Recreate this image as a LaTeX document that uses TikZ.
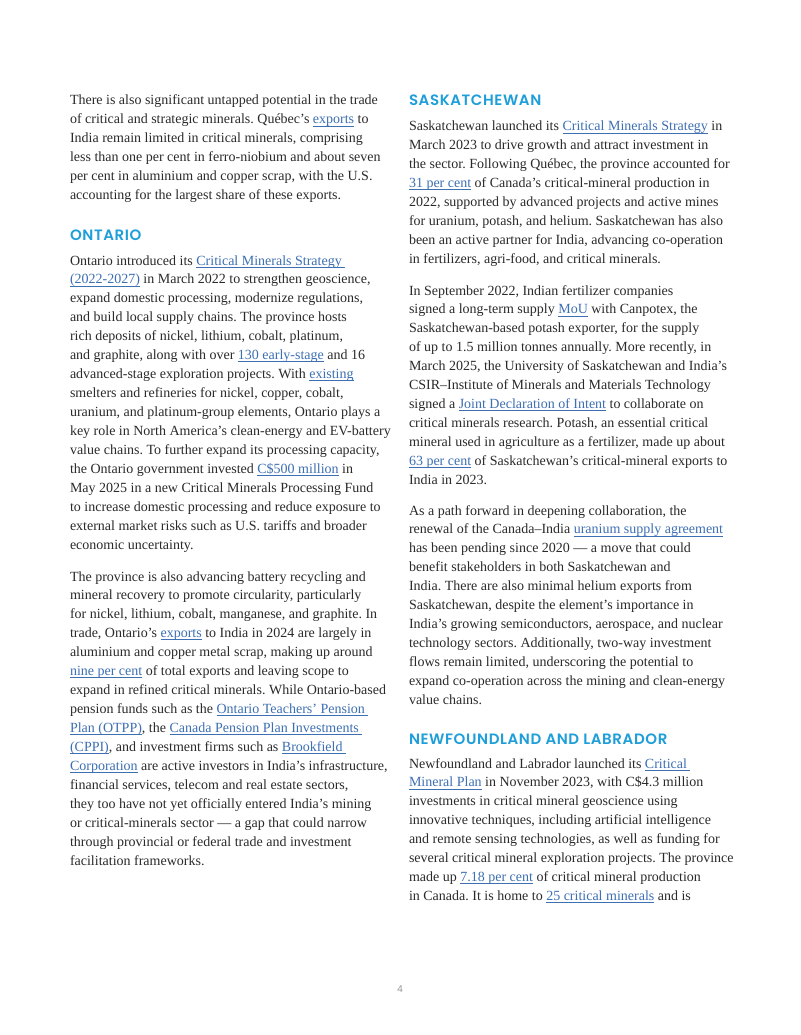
\documentclass[tikz,border=0pt]{standalone}
\usepackage{fontspec}
\setmainfont{Liberation Serif}
\newfontfamily\headfont{Poppins}[BoldFont=* SemiBold, LetterSpace=4]
\newfontfamily\numfont{Open Sans}
\usetikzlibrary{positioning}
\definecolor{bodyc}{HTML}{2A2A2A}
\definecolor{headc}{HTML}{1E9FDA}
\definecolor{linkc}{HTML}{3D6FB3}
\definecolor{pgc}{HTML}{8C8C8C}
\frenchspacing
\newcommand\lk[1]{\setbox0\hbox{#1}\textcolor{linkc}{\rlap{\rule[-2.2pt]{\wd0}{0.6pt}}#1}}
\tikzset{
  bl/.style={anchor=base west, inner sep=0pt, outer sep=0pt, text=bodyc, font=\fontsize{14}{16}\selectfont},
  hd/.style={anchor=base west, inner sep=0pt, outer sep=0pt, text=headc, font=\headfont\bfseries\fontsize{15}{17}\selectfont},
}
\begin{document}
\begin{tikzpicture}[x=1pt,y=-1pt]
\fill[white] (0,0) rectangle (800,1035);
\useasboundingbox (0,0) rectangle (800,1035);
% ---------- left column ----------
\node[bl] (a1) at (70,105) {There is also significant untapped potential in the trade};
\node[bl] (a2) at (70,124) {of critical and strategic minerals. Québec’s \lk{exports} to};
\node[bl] (a3) at (70,143) {India remain limited in critical minerals, comprising};
\node[bl] (a4) at (70,162) {less than one per cent in ferro-niobium and about seven};
\node[bl] (a5) at (70,181) {per cent in aluminium and copper scrap, with the U.S.};
\node[bl] (a6) at (70,200) {accounting for the largest share of these exports.};
\node[hd] (h1) at (70,240) {ONTARIO};
\node[bl] (b1) at (70,265.0) {Ontario introduced its \lk{Critical Minerals Strategy\ }};
\node[bl] (b2) at (70,283.95) {\lk{(2022-2027)} in March 2022 to strengthen geoscience,};
\node[bl] (b3) at (70,302.9) {expand domestic processing, modernize regulations,};
\node[bl] (b4) at (70,321.85) {and build local supply chains. The province hosts};
\node[bl] (b5) at (70,340.8) {rich deposits of nickel, lithium, cobalt, platinum,};
\node[bl] (b6) at (70,359.75) {and graphite, along with over \lk{130 early-stage} and 16};
\node[bl] (b7) at (70,378.7) {advanced-stage exploration projects. With \lk{existing}};
\node[bl] (b8) at (70,397.65) {smelters and refineries for nickel, copper, cobalt,};
\node[bl] (b9) at (70,416.6) {uranium, and platinum-group elements, Ontario plays a};
\node[bl] (b10) at (70,435.55) {key role in North America’s clean-energy and EV-battery};
\node[bl] (b11) at (70,454.5) {value chains. To further expand its processing capacity,};
\node[bl] (b12) at (70,473.45) {the Ontario government invested \lk{C\$500 million} in};
\node[bl] (b13) at (70,492.4) {May 2025 in a new Critical Minerals Processing Fund};
\node[bl] (b14) at (70,511.35) {to increase domestic processing and reduce exposure to};
\node[bl] (b15) at (70,530.3) {external market risks such as U.S. tariffs and broader};
\node[bl] (b16) at (70,549.25) {economic uncertainty.};
\node[bl] (c1) at (70,581.0) {The province is also advancing battery recycling and};
\node[bl] (c2) at (70,599.95) {mineral recovery to promote circularity, particularly};
\node[bl] (c3) at (70,618.9) {for nickel, lithium, cobalt, manganese, and graphite. In};
\node[bl] (c4) at (70,637.85) {trade, Ontario’s \lk{exports} to India in 2024 are largely in};
\node[bl] (c5) at (70,656.8) {aluminium and copper metal scrap, making up around};
\node[bl] (c6) at (70,675.75) {\lk{nine per cent} of total exports and leaving scope to};
\node[bl] (c7) at (70,694.7) {expand in refined critical minerals. While Ontario-based};
\node[bl] (c8) at (70,713.65) {pension funds such as the \lk{Ontario Teachers’ Pension\ }};
\node[bl] (c9) at (70,732.6) {\lk{Plan (OTPP)}, the \lk{Canada Pension Plan Investments\ }};
\node[bl] (c10) at (70,751.55) {\lk{(CPPI)}, and investment firms such as \lk{Brookfield\ }};
\node[bl] (c11) at (70,770.5) {\lk{Corporation} are active investors in India’s infrastructure,};
\node[bl] (c12) at (70,789.45) {financial services, telecom and real estate sectors,};
\node[bl] (c13) at (70,808.4) {they too have not yet officially entered India’s mining};
\node[bl] (c14) at (70,827.35) {or critical-minerals sector — a gap that could narrow};
\node[bl] (c15) at (70,846.3) {through provincial or federal trade and investment};
\node[bl] (c16) at (70,865.25) {facilitation frameworks.};
% ---------- right column ----------
\node[hd] (h2) at (409,106) {SASKATCHEWAN};
\node[bl] (d1) at (409,131.0) {Saskatchewan launched its \lk{Critical Minerals Strategy} in};
\node[bl] (d2) at (409,149.95) {March 2023 to drive growth and attract investment in};
\node[bl] (d3) at (409,168.9) {the sector. Following Québec, the province accounted for};
\node[bl] (d4) at (409,187.85) {\lk{31 per cent} of Canada’s critical-mineral production in};
\node[bl] (d5) at (409,206.8) {2022, supported by advanced projects and active mines};
\node[bl] (d6) at (409,225.75) {for uranium, potash, and helium. Saskatchewan has also};
\node[bl] (d7) at (409,244.7) {been an active partner for India, advancing co-operation};
\node[bl] (d8) at (409,263.65) {in fertilizers, agri-food, and critical minerals.};
\node[bl] (e1) at (409,295.0) {In September 2022, Indian fertilizer companies};
\node[bl] (e2) at (409,313.95) {signed a long-term supply \lk{MoU} with Canpotex, the};
\node[bl] (e3) at (409,332.9) {Saskatchewan-based potash exporter, for the supply};
\node[bl] (e4) at (409,351.85) {of up to 1.5 million tonnes annually. More recently, in};
\node[bl] (e5) at (409,370.8) {March 2025, the University of Saskatchewan and India’s};
\node[bl] (e6) at (409,389.75) {CSIR–Institute of Minerals and Materials Technology};
\node[bl] (e7) at (409,408.7) {signed a \lk{Joint Declaration of Intent} to collaborate on};
\node[bl] (e8) at (409,427.65) {critical minerals research. Potash, an essential critical};
\node[bl] (e9) at (409,446.6) {mineral used in agriculture as a fertilizer, made up about};
\node[bl] (e10) at (409,465.55) {\lk{63 per cent} of Saskatchewan’s critical-mineral exports to};
\node[bl] (e11) at (409,484.5) {India in 2023.};
\node[bl] (f1) at (409,515.0) {As a path forward in deepening collaboration, the};
\node[bl] (f2) at (409,533.95) {renewal of the Canada–India \lk{uranium supply agreement}};
\node[bl] (f3) at (409,552.9) {has been pending since 2020 — a move that could};
\node[bl] (f4) at (409,571.85) {benefit stakeholders in both Saskatchewan and};
\node[bl] (f5) at (409,590.8) {India. There are also minimal helium exports from};
\node[bl] (f6) at (409,609.75) {Saskatchewan, despite the element’s importance in};
\node[bl] (f7) at (409,628.7) {India’s growing semiconductors, aerospace, and nuclear};
\node[bl] (f8) at (409,647.65) {technology sectors. Additionally, two-way investment};
\node[bl] (f9) at (409,666.6) {flows remain limited, underscoring the potential to};
\node[bl] (f10) at (409,685.55) {expand co-operation across the mining and clean-energy};
\node[bl] (f11) at (409,704.5) {value chains.};
\node[hd] (h3) at (409,744) {NEWFOUNDLAND AND LABRADOR};
\node[bl] (g1) at (409,768.0) {Newfoundland and Labrador launched its \lk{Critical\ }};
\node[bl] (g2) at (409,786.95) {\lk{Mineral Plan} in November 2023, with C\$4.3 million};
\node[bl] (g3) at (409,805.9) {investments in critical mineral geoscience using};
\node[bl] (g4) at (409,824.85) {innovative techniques, including artificial intelligence};
\node[bl] (g5) at (409,843.8) {and remote sensing technologies, as well as funding for};
\node[bl] (g6) at (409,862.75) {several critical mineral exploration projects. The province};
\node[bl] (g7) at (409,881.7) {made up \lk{7.18 per cent} of critical mineral production};
\node[bl] (g8) at (409,900.65) {in Canada. It is home to \lk{25 critical minerals} and is};
% page number
\node[anchor=base, inner sep=0pt, text=pgc, font=\numfont\fontsize{9.5}{10}\selectfont] (pg) at (400,992) {4};
\end{tikzpicture}
\end{document}
